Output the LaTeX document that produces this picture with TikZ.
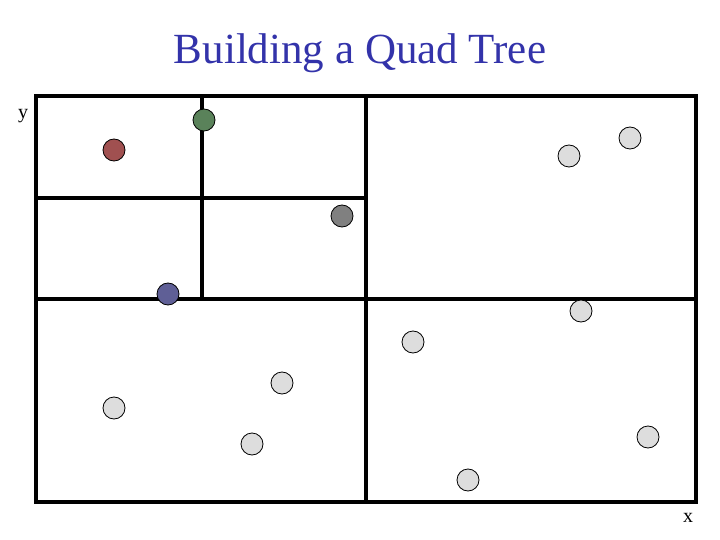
\documentclass[tikz,border=0pt]{standalone}
\usepackage{fontspec}
\setmainfont{Liberation Serif}
\begin{document}
\begin{tikzpicture}[x=1pt,y=-1pt,
  pt/.style={circle,draw=black,line width=0.8pt,minimum size=22pt,inner sep=0pt},
  wall/.style={line width=3.5pt}]
\useasboundingbox (0,0) rectangle (720,540);
\definecolor{ttl}{RGB}{51,51,170}
\node[text=ttl,font=\fontsize{43}{50}\selectfont] (title) at (360,53) {Building a Quad Tree};
\node[font=\fontsize{20}{22}\selectfont] (ylab) at (23,116) {y};
\node[font=\fontsize{20}{22}\selectfont] (xlab) at (688,518) {x};
\draw[wall] (36,96) rectangle (696,502);
\draw[wall] (366,96) -- (366,502);
\draw[wall] (36,299) -- (696,299);
\draw[wall] (202,96) -- (202,299);
\draw[wall] (36,198) -- (366,198);
\node[pt,fill={rgb,255:red,160;green,80;blue,80}] (r) at (114,150) {};
\node[pt,fill={rgb,255:red,90;green,130;blue,90}] (g) at (204,120) {};
\node[pt,fill={rgb,255:red,128;green,128;blue,128}] (d) at (342,216) {};
\node[pt,fill={rgb,255:red,95;green,95;blue,150}] (b) at (168,294) {};
\foreach \n/\x/\y in {a/630/138,c/569/156,e/581/311,f/413/342,h/282/383,i/114/408,j/252/444,k/648/437,l/468/480}
  \node[pt,fill={rgb,255:red,221;green,221;blue,221}] (\n) at (\x,\y) {};
\end{tikzpicture}
\end{document}
